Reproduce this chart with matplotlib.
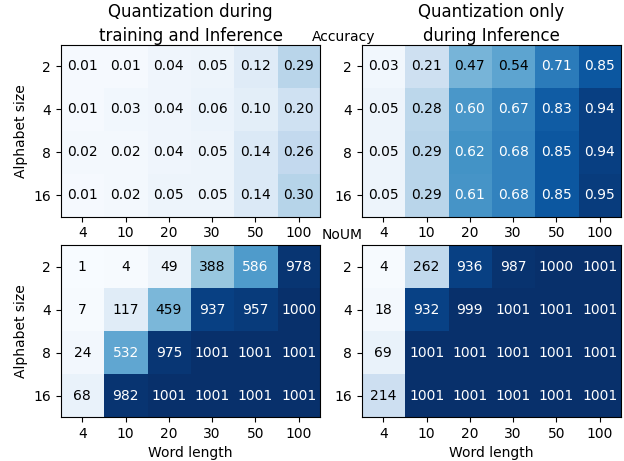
import numpy as np
import matplotlib
matplotlib.use("Agg")
import matplotlib.pyplot as plt

# Axes labels
word_lengths = ["4", "10", "20", "30", "50", "100"]
alphabet_sizes = ["2", "4", "8", "16"]

# Accuracy: quantization during training and inference
acc_train = [
    [0.01, 0.01, 0.04, 0.05, 0.12, 0.29],
    [0.01, 0.03, 0.04, 0.06, 0.10, 0.20],
    [0.02, 0.02, 0.04, 0.05, 0.14, 0.26],
    [0.01, 0.02, 0.05, 0.05, 0.14, 0.30],
]

# Accuracy: quantization only during inference
acc_infer = [
    [0.03, 0.21, 0.47, 0.54, 0.71, 0.85],
    [0.05, 0.28, 0.60, 0.67, 0.83, 0.94],
    [0.05, 0.29, 0.62, 0.68, 0.85, 0.94],
    [0.05, 0.29, 0.61, 0.68, 0.85, 0.95],
]

# NoUM: quantization during training and inference
noum_train = [
    [1, 4, 49, 388, 586, 978],
    [7, 117, 459, 937, 957, 1000],
    [24, 532, 975, 1001, 1001, 1001],
    [68, 982, 1001, 1001, 1001, 1001],
]

# NoUM: quantization only during inference
noum_infer = [
    [4, 262, 936, 987, 1000, 1001],
    [18, 932, 999, 1001, 1001, 1001],
    [69, 1001, 1001, 1001, 1001, 1001],
    [214, 1001, 1001, 1001, 1001, 1001],
]

fig = plt.figure(figsize=(6.24, 4.61), dpi=100)

w, h = 0.416, 0.373
positions = {
    "tl": [0.0973, 0.530, w, h],
    "tr": [0.5796, 0.530, w, h],
    "bl": [0.0973, 0.0954, w, h],
    "br": [0.5796, 0.0954, w, h],
}


def heatmap(ax, data, vmax, thresh, fmt):
    data = np.array(data)
    ax.imshow(data, cmap="Blues", vmin=0, vmax=vmax, aspect="auto")
    for i in range(data.shape[0]):
        for j in range(data.shape[1]):
            val = data[i, j]
            color = "white" if val > thresh else "black"
            ax.text(j, i, fmt(val), ha="center", va="center",
                    color=color, fontsize=10)
    ax.set_xticks(range(len(word_lengths)))
    ax.set_xticklabels(word_lengths)
    ax.set_yticks(range(len(alphabet_sizes)))
    ax.set_yticklabels(alphabet_sizes)
    ax.tick_params(labelsize=10)


ax1 = fig.add_axes(positions["tl"])
heatmap(ax1, acc_train, 1.0, 0.57, lambda v: f"{v:.2f}")
ax1.set_title("Quantization during\ntraining and Inference", fontsize=12,
              linespacing=1.4, pad=1.5)
ax1.set_ylabel("Alphabet size")

ax2 = fig.add_axes(positions["tr"])
heatmap(ax2, acc_infer, 1.0, 0.57, lambda v: f"{v:.2f}")
ax2.set_title("Quantization only\nduring Inference", fontsize=12,
              linespacing=1.4, pad=1.5)

ax3 = fig.add_axes(positions["bl"])
heatmap(ax3, noum_train, 1001, 500, lambda v: f"{int(v)}")
ax3.set_ylabel("Alphabet size")
ax3.set_xlabel("Word length")

ax4 = fig.add_axes(positions["br"])
heatmap(ax4, noum_infer, 1001, 500, lambda v: f"{int(v)}")
ax4.set_xlabel("Word length")

fig.text(344 / 624, 1 - 37 / 461, "Accuracy", ha="center", va="center", fontsize=10)
fig.text(342 / 624, 1 - 235 / 461, "NoUM", ha="center", va="center", fontsize=10)

fig.savefig("out.png", dpi=100)
